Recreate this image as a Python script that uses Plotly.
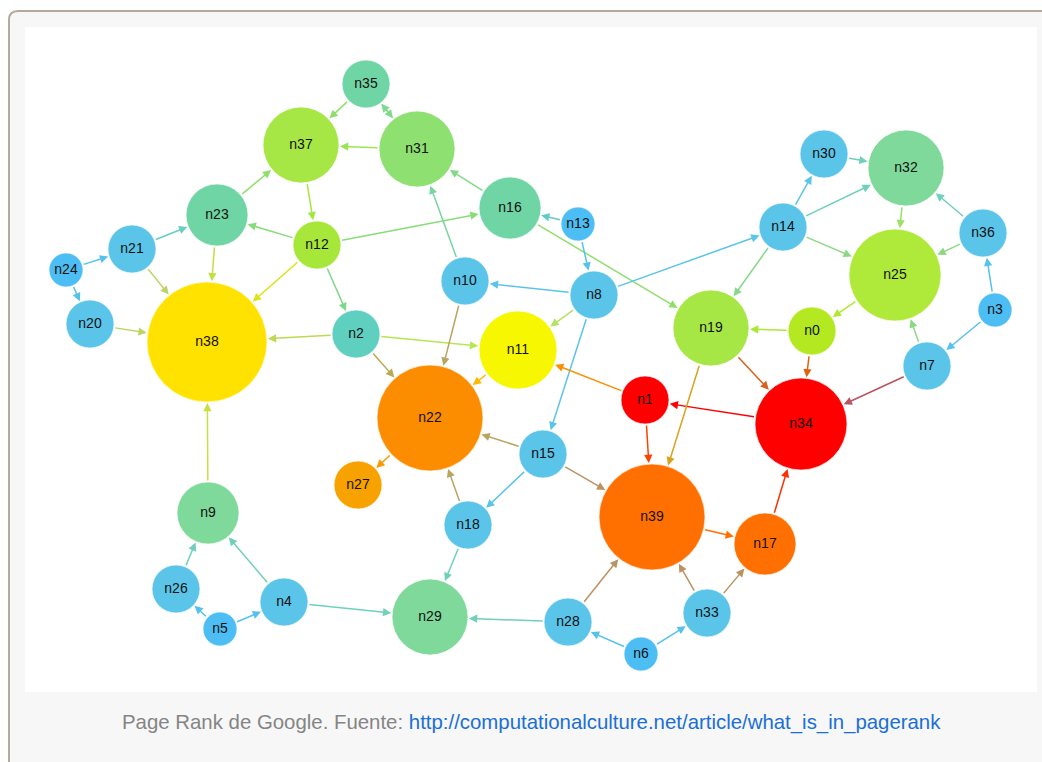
import plotly.graph_objects as go

# ---------------- data ----------------
node_names = ['n0', 'n1', 'n2', 'n3', 'n4', 'n5', 'n6', 'n7', 'n8', 'n9',
              'n10', 'n11', 'n12', 'n13', 'n14', 'n15', 'n16', 'n17', 'n18', 'n19',
              'n20', 'n21', 'n22', 'n23', 'n24', 'n25', 'n26', 'n27', 'n28', 'n29',
              'n30', 'n31', 'n32', 'n33', 'n34', 'n35', 'n36', 'n37', 'n38', 'n39']
node_x = [812, 645, 356, 995, 284, 220, 641, 927, 594, 208,
          465, 518, 317, 578, 783, 543, 510, 765, 468, 711,
          90, 132, 430, 217, 66, 895, 176, 358, 568, 430,
          824, 417, 906, 707, 801, 366, 983, 301, 207, 652]
node_y = [331, 400, 334, 310, 602, 629, 654, 366, 295, 513,
          281, 350, 245, 224, 227, 454, 208, 544, 525, 328,
          324, 249, 418, 215, 270, 275, 589, 485, 622, 617,
          154, 149, 168, 613, 424, 84, 233, 145, 342, 517]
node_radius = [24, 24, 24, 17, 24, 17, 17, 24, 24, 31,
               24, 39, 24, 17, 24, 24, 31, 31, 24, 38,
               24, 24, 53, 31, 17, 46, 24, 24, 24, 38,
               24, 38, 38, 24, 46, 24, 24, 38, 60, 53]
node_colors = ['#b4e922', '#ff0000', '#5fcfc0', '#4dbef3', '#5bc4e9', '#4dbef3', '#4dbef3', '#5bc4e9', '#5bc4e9', '#7ed99a',
               '#5bc4e9', '#f6f700', '#a6e73a', '#4dbef3', '#5bc4e9', '#5bc4e9', '#70d5a5', '#ff7000', '#5bc4e9', '#a7e745',
               '#5bc4e9', '#5bc4e9', '#fd8d00', '#70d5a5', '#4dbef3', '#afe93a', '#5bc4e9', '#f8a200', '#5bc4e9', '#7ed99a',
               '#5bc4e9', '#8ee070', '#7ed99a', '#5bc4e9', '#ff0000', '#70d5a5', '#5bc4e9', '#a7e745', '#ffe200', '#ff7000']

edge_src = ['n35', 'n35', 'n31', 'n31', 'n37', 'n23', 'n12', 'n12', 'n12', 'n12',
            'n23', 'n21', 'n21', 'n24', 'n24', 'n20', 'n2', 'n2', 'n2', 'n10',
            'n10', 'n16', 'n16', 'n13', 'n13', 'n8', 'n8', 'n8', 'n8', 'n11',
            'n1', 'n1', 'n34', 'n19', 'n19', 'n0', 'n0', 'n25', 'n14', 'n14',
            'n14', 'n14', 'n30', 'n32', 'n36', 'n36', 'n3', 'n3', 'n7', 'n7',
            'n15', 'n15', 'n15', 'n18', 'n18', 'n22', 'n9', 'n26', 'n4', 'n5',
            'n5', 'n4', 'n28', 'n28', 'n6', 'n6', 'n33', 'n33', 'n39', 'n17']
edge_dst = ['n37', 'n31', 'n35', 'n37', 'n12', 'n37', 'n23', 'n16', 'n38', 'n2',
            'n38', 'n23', 'n38', 'n21', 'n20', 'n38', 'n38', 'n11', 'n22', 'n31',
            'n22', 'n31', 'n19', 'n16', 'n8', 'n10', 'n14', 'n11', 'n15', 'n22',
            'n11', 'n39', 'n1', 'n34', 'n39', 'n19', 'n34', 'n0', 'n30', 'n32',
            'n25', 'n19', 'n32', 'n25', 'n32', 'n25', 'n36', 'n7', 'n25', 'n34',
            'n22', 'n18', 'n39', 'n22', 'n29', 'n27', 'n38', 'n9', 'n9', 'n26',
            'n4', 'n29', 'n29', 'n39', 'n28', 'n33', 'n39', 'n17', 'n17', 'n34']

caption_text = 'Page Rank de Google. Fuente: '
caption_link = 'http://computationalculture.net/article/what_is_in_pagerank'

# ---------------- helpers ----------------
def hex_rgb(h):
    h = h.lstrip('#')
    return tuple(int(h[i:i + 2], 16) for i in (0, 2, 4))


def mix(c1, c2, t=0.5):
    a, b = hex_rgb(c1), hex_rgb(c2)
    return 'rgb(%d,%d,%d)' % tuple(round(a[i] * (1 - t) + b[i] * t) for i in range(3))


idx = {n: i for i, n in enumerate(node_names)}

W, H = 1042, 762
fig = go.Figure()

# nodes
fig.add_trace(go.Scatter(
    x=node_x, y=node_y, mode='markers+text',
    text=node_names, textposition='middle center',
    textfont=dict(family='Liberation Sans, Arial, sans-serif', size=14, color='#111111'),
    marker=dict(size=[2 * r for r in node_radius], color=node_colors,
                line=dict(width=0.8, color='rgba(255,255,255,0.8)'), opacity=1),
    hoverinfo='text', showlegend=False, cliponaxis=False,
))

# edges as arrows
annotations = []
for s, d in zip(edge_src, edge_dst):
    i, j = idx[s], idx[d]
    annotations.append(dict(
        x=node_x[j], y=node_y[j], ax=node_x[i], ay=node_y[i],
        xref='x', yref='y', axref='x', ayref='y',
        text='', showarrow=True, arrowhead=2, arrowsize=1.1, arrowwidth=1.5,
        arrowcolor=mix(node_colors[i], node_colors[j], 0.58),
        standoff=node_radius[j] + 1, startstandoff=node_radius[i],
    ))

annotations.append(dict(
    x=531.5, y=722, xref='x', yref='y', showarrow=False,
    xanchor='center', yanchor='middle',
    text=('<span style="color:#858585">' + caption_text + '</span>'
          '<a href="' + caption_link + '"><span style="color:#1a6fd6">' + caption_link + '</span></a>'),
    font=dict(family='Liberation Sans, Arial, sans-serif', size=20.4, color='#858585'),
))

shapes = [
    # outer frame
    dict(type='path', xref='x', yref='y', layer='below',
         path='M 9,20 Q 9,11 18,11 L 1080,11 L 1080,800 L 9,800 Z',
         fillcolor='#f7f7f7', line=dict(color='#b3a99c', width=2)),
    # white image area
    dict(type='rect', xref='x', yref='y', layer='below',
         x0=25, y0=27, x1=1037, y1=692, fillcolor='#ffffff', line=dict(width=0)),
]

fig.update_layout(
    width=W, height=H,
    margin=dict(l=0, r=0, t=0, b=0),
    paper_bgcolor='#ffffff', plot_bgcolor='rgba(0,0,0,0)',
    xaxis=dict(range=[0, W], visible=False, fixedrange=True, showgrid=False, zeroline=False),
    yaxis=dict(range=[H, 0], visible=False, fixedrange=True, showgrid=False, zeroline=False),
    annotations=annotations, shapes=shapes,
    showlegend=False,
)

fig.write_html(
    'out.html',
    config={'displayModeBar': False},
    post_script=("document.body.style.margin='0';"
                 "document.body.style.overflow='hidden';"
                 "document.documentElement.style.overflow='hidden';"),
)
